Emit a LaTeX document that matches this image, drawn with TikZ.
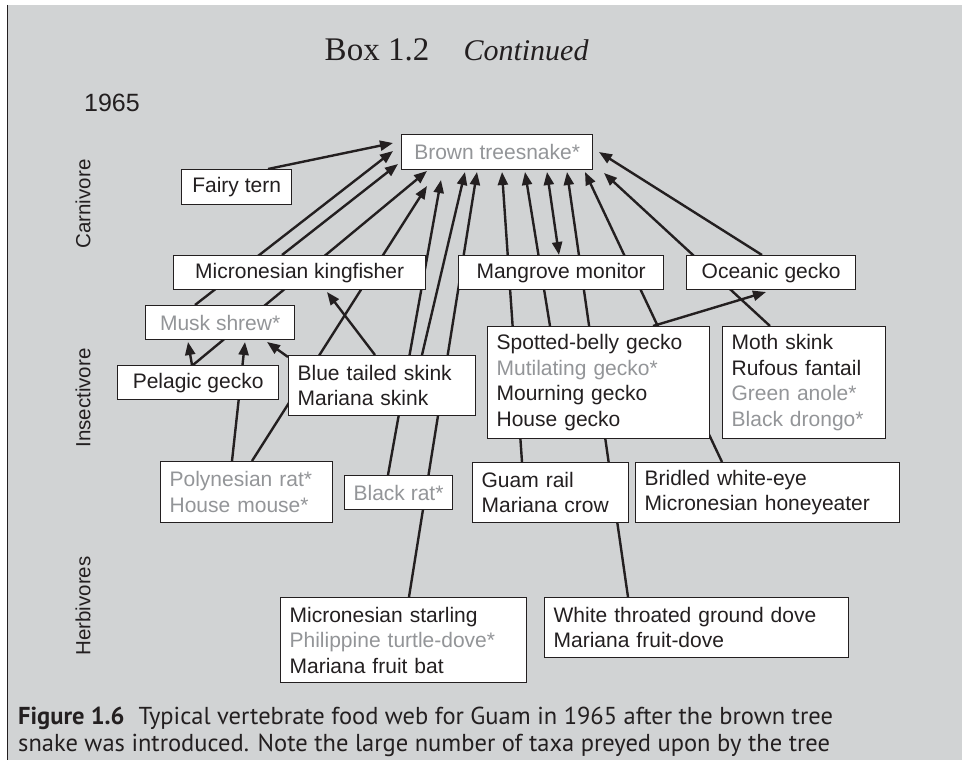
\documentclass[tikz,border=0pt]{standalone}
\usepackage{fontspec}
\usetikzlibrary{arrows.meta}
\newfontfamily\boxfont{Liberation Sans}
\newfontfamily\capfont{PT Sans}
\newfontfamily\headfont{Liberation Serif}
\definecolor{panel}{HTML}{D1D3D4}
\definecolor{ink}{HTML}{231F20}
\definecolor{alien}{HTML}{939598}
\pgfdeclarelayer{panel}
\pgfdeclarelayer{edges}
\pgfsetlayers{panel,edges,main}
% introduced species are set in grey
\newcommand\intro[1]{\textcolor{alien}{#1}}

\begin{document}
\begin{tikzpicture}[x=1pt,y=-1pt,
  box/.style={draw=ink, line width=1.3pt, fill=white, inner xsep=9pt, inner ysep=0pt,
    anchor=north west, text=ink, font=\boxfont\fontsize{21}{25.6}\selectfont},
  one/.style 2 args={box, minimum width=#1, minimum height=#2, align=center},
  many/.style 2 args={box, minimum height=#2, text width=#1, align=left},
  eat/.style={draw=ink, line width=2.4pt, -{Triangle[length=13pt,width=10pt]}},
  both/.style={draw=ink, line width=2.4pt, {Triangle[length=13pt,width=10pt]}-{Triangle[length=13pt,width=10pt]}},
  level/.style={rotate=90, text=ink, inner sep=0pt, font=\boxfont\fontsize{20.5}{24}\selectfont},
  capline/.style={anchor=base west, inner sep=0pt, text=ink, font=\capfont\fontsize{24.5}{28}\selectfont}
]
\useasboundingbox (0,0) rectangle (962,760);

% grey panel with its left rule
\begin{pgfonlayer}{panel}
  \fill[panel] (8,5) rectangle (962,760);
  \draw[ink, line width=1.5pt] (7.5,5) -- (7.5,760);
\end{pgfonlayer}

% heading, year and trophic levels
\node[anchor=base, inner sep=0pt, text=ink, font=\headfont\fontsize{33}{36}\selectfont] (boxno) at (377,61) {Box 1.2};
\node[anchor=base, inner sep=0pt, text=ink, font=\headfont\itshape\fontsize{30}{36}\selectfont] (cont) at (526,61) {Continued};
\node[anchor=base, inner sep=0pt, text=ink, font=\boxfont\fontsize{25}{30}\selectfont] (year) at (112,112) {1965};
\node[level] (carn) at (83,204) {Carnivore};
\node[level] (insect) at (83,398) {Insectivore};
\node[level] (herb) at (83,606) {Herbivores};

% taxa
\node[one={191pt}{35pt}] (bts) at (401,134) {\intro{Brown treesnake*}};
\node[one={110pt}{35pt}] (fairy) at (181,169) {Fairy tern};
\node[one={252pt}{34pt}] (king) at (173,255) {Micronesian kingfisher};
\node[one={205pt}{34pt}] (mang) at (458,255) {Mangrove monitor};
\node[one={169pt}{34pt}] (ocean) at (686,255) {Oceanic gecko};
\node[one={149pt}{34pt}] (shrew) at (145,305) {\intro{Musk shrew*}};
\node[one={161pt}{34pt}] (pelag) at (117,365) {Pelagic gecko};
\node[many={169pt}{60pt}] (blue) at (288,355) {Blue tailed skink\\Mariana skink};
\node[many={204pt}{112pt}] (spot) at (487,326) {Spotted-belly gecko\\\intro{Mutilating gecko*}\\Mourning gecko\\House gecko};
\node[many={145pt}{112pt}] (moth) at (722,326) {Moth skink\\Rufous fantail\\\intro{Green anole*}\\\intro{Black drongo*}};
\node[many={154pt}{61pt}] (poly) at (160,461) {\intro{Polynesian rat*}\\\intro{House mouse*}};
\node[one={105pt}{34pt}] (brat) at (344,475) {\intro{Black rat*}};
\node[many={138pt}{60pt}] (guam) at (472,462) {Guam rail\\Mariana crow};
\node[many={246pt}{60pt}] (brid) at (635,462) {Bridled white-eye\\Micronesian honeyeater};
\node[many={228pt}{85pt}] (star) at (280,597) {Micronesian starling\\\intro{Philippine turtle-dove*}\\Mariana fruit bat};
\node[many={286pt}{60pt}] (dove) at (544,597) {White throated ground dove\\Mariana fruit-dove};

% arrow tips gathered under the snake
\coordinate (tFairy) at (393,143);
\coordinate (tShrew) at (393,151);
\coordinate (tKing) at (398,164);
\coordinate (tPelag) at (427,171);
\coordinate (tPoly) at (427,186);
\coordinate (tBrat) at (441,180);
\coordinate (tBlue) at (465,172);
\coordinate (tStar) at (477,172);
\coordinate (tGuam) at (502,172);
\coordinate (tSpot) at (525,172);
\coordinate (tMang) at (547,172);
\coordinate (tDove) at (567,172);
\coordinate (tBrid) at (585,172);
\coordinate (tMoth) at (604,173);
\coordinate (tOcean) at (599,152);
% other arrow tips
\coordinate (tSpotOcean) at (766,292);
\coordinate (tPelagShrew) at (188,342);
\coordinate (tPolyShrew) at (245,342);
\coordinate (tBlueShrew) at (267,342);
\coordinate (tBlueKing) at (327,292);

% feeding links, passing behind the boxes
\begin{pgfonlayer}{edges}
  \draw[eat] (268,0 |- fairy.north) -- (tFairy);
  \draw[eat] (195,0 |- shrew.north) -- (tShrew);
  \draw[eat] (282,0 |- king.north) -- (tKing);
  \draw[eat] (193,0 |- pelag.north) -- (tPelag);
  \draw[eat] (252,0 |- poly.north) -- (tPoly);
  \draw[eat] (388,0 |- brat.north) -- (tBrat);
  \draw[eat] (422,0 |- blue.north) -- (tBlue);
  \draw[eat] (409,0 |- star.north) -- (tStar);
  \draw[eat] (522,0 |- guam.north) -- (tGuam);
  \draw[eat] (550,0 |- spot.north) -- (tSpot);
  \draw[both] (559,0 |- mang.north) -- (tMang);
  \draw[eat] (628,0 |- dove.north) -- (tDove);
  \draw[eat] (722,0 |- brid.north) -- (tBrid);
  \draw[eat] (770,0 |- moth.north) -- (tMoth);
  \draw[eat] (762,0 |- ocean.north) -- (tOcean);
  \draw[eat] (653,0 |- spot.north) -- (tSpotOcean);
  \draw[eat] (192,0 |- pelag.north) -- (tPelagShrew);
  \draw[eat] (232,0 |- poly.north) -- (tPolyShrew);
  \draw[eat] ([yshift=-2pt]blue.north west) -- (tBlueShrew);
  \draw[eat] (375,0 |- blue.north) -- (tBlueKing);
\end{pgfonlayer}

% caption
\node[capline] (cap1) at (18,724) {\textbf{Figure 1.6}\hspace{14pt}Typical vertebrate food web for Guam in 1965 after the brown tree};
\node[capline] (cap2) at (18,751) {snake was introduced. Note the large number of taxa preyed upon by the tree};
\end{tikzpicture}
\end{document}
